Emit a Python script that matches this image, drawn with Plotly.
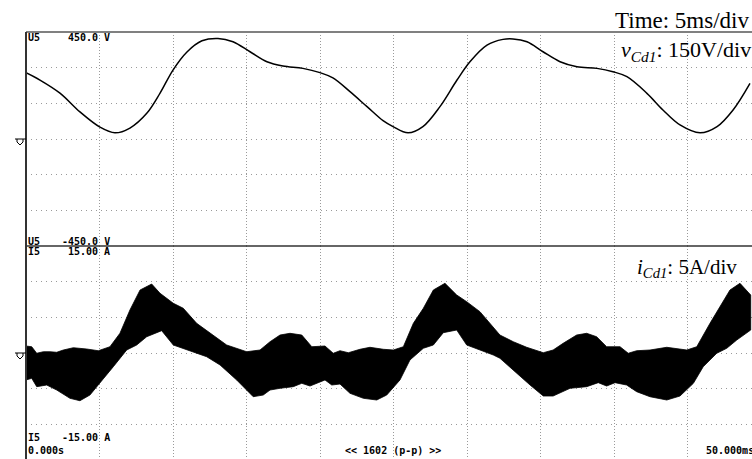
import plotly.graph_objects as go
from plotly.subplots import make_subplots

# ─── Data ─────────────────────────────────────────────────────────────────────
# v_Cd1 : time (ms) / voltage (V)
t_v = [0.0, 0.95, 2.31, 3.67, 5.03, 6.05, 7.07, 8.23, 9.12, 10.0, 10.95, 11.97,
       13.06, 14.08, 15.24, 16.39, 17.48, 18.84, 20.0, 20.88, 22.04, 23.2, 24.29,
       24.97, 25.99, 27.0, 28.16, 29.32, 30.2, 31.36, 32.45, 33.13, 34.08, 35.17,
       36.33, 37.48, 38.84, 39.93, 40.88, 42.24, 43.33, 44.49, 45.85, 47.01, 48.1,
       49.25]
v_cd1 = [279, 248, 193, 114, 50, 26, 46, 109, 193, 290, 366, 413,
         423, 409, 367, 325, 307, 297, 279, 257, 199, 136, 77,
         52, 26, 52, 136, 248, 325, 395, 419, 421, 409, 367,
         325, 304, 297, 283, 262, 192, 122, 59, 26, 52, 122,
         234]

# i_Cd1 ripple band : upper envelope (ms / A)
t_up = [0.0, 0.39, 0.73, 1.18, 1.63, 2.09, 2.54, 3.22, 4.13, 4.92, 5.71, 6.39,
        7.07, 7.76, 8.55, 9.12, 10.02, 10.70, 11.61, 12.52, 13.65, 15.01, 15.92,
        16.60, 17.28, 17.96, 18.76, 19.44, 20.34, 20.90, 21.36, 21.93, 22.72,
        23.40, 24.31, 24.99, 25.67, 26.35, 27.03, 27.71, 28.50, 29.30, 29.98,
        30.88, 31.79, 32.24, 33.15, 34.06, 35.19, 35.86, 36.54, 37.46, 38.14,
        38.82, 39.50, 40.41, 40.97, 41.54, 42.45, 43.59, 44.95, 45.63, 46.53,
        47.21, 47.89, 48.57, 49.30]
i_up = [0.98, 0.88, -0.04, 0.18, 0.18, 0.10, 0.42, 0.74, 0.56, 0.32, 0.88, 2.76,
        6.03, 8.83, 9.67, 8.37, 6.97, 6.27, 4.16, 2.76, 1.12, 0.18, 0.42,
        1.58, 2.52, 2.76, 2.52, 0.88, 0.98, -0.04, 0.32, 0.04, 0.52,
        0.80, 0.52, 0.42, 0.88, 4.16, 6.27, 8.83, 9.77, 8.13, 7.19,
        5.79, 3.69, 2.52, 1.58, 0.80, 0.04, 0.42, 1.36, 2.52, 2.76,
        2.28, 0.88, 0.88, -0.04, 0.32, 0.42, 0.80, 0.42, 0.88, 4.16,
        6.49, 8.83, 9.77, 8.13]

# i_Cd1 ripple band : lower envelope (ms / A)
t_lo = [0.0, 0.39, 0.73, 1.41, 2.09, 2.99, 3.67, 4.35, 5.03, 5.94, 6.85, 7.53,
        8.21, 9.23, 10.02, 11.38, 12.29, 13.20, 14.33, 15.46, 16.14, 16.60,
        17.28, 18.18, 18.76, 19.32, 20.34, 20.80, 21.36, 22.04, 22.95, 23.86,
        24.54, 25.44, 26.12, 27.03, 27.71, 28.39, 29.30, 29.98, 30.88, 31.79,
        32.24, 33.15, 34.29, 35.19, 35.86, 37.01, 38.14, 38.93, 39.50, 40.07,
        40.86, 41.54, 42.45, 43.59, 44.49, 45.40, 46.07, 46.99, 47.67, 48.35,
        49.30]
i_lo = [-3.78, -3.55, -4.72, -4.49, -5.19, -6.35, -6.69, -5.89, -4.25, -1.92, 0.42, 1.12,
        2.28, 3.13, 1.12, 0.18, -0.52, -1.68, -3.78, -6.13, -5.89, -5.19,
        -4.95, -4.72, -4.25, -4.63, -3.78, -4.49, -4.35, -5.65, -6.35, -6.59,
        -5.89, -3.78, -0.98, 0.66, 1.12, 2.85, 3.22, 1.12, 0.42, -0.28,
        -0.74, -2.38, -4.49, -6.03, -6.03, -4.95, -4.72, -4.16, -4.63, -4.16,
        -4.49, -5.42, -6.13, -6.59, -6.03, -4.25, -1.92, -0.04, 0.66, 1.82,
        3.22]

time_ticks = [5, 10, 15, 20, 25, 30, 35, 40, 45]
v_ticks = [-300, -150, 0, 150, 300]
i_ticks = [-10, -5, 0, 5, 10]

# ─── Layout helpers (pixel -> paper) ─────────────────────────────────────────
W, H = 752, 459
L, T = 26, 32
PW, PH = W - L, H - T


def px(x):
    return (x - L) / PW


def py(y):
    return (H - y) / PH


SPLIT = py(246)
GRID = "#9a9a9a"
MONO = dict(family="DejaVu Sans Mono", size=10, color="#000", weight="bold")
SERIF = "Liberation Serif"

fig = make_subplots(rows=2, cols=1, shared_xaxes=True, vertical_spacing=0)

fig.add_trace(go.Scatter(
    x=t_v, y=v_cd1, mode="lines", line=dict(color="#000", width=1.5, shape="spline"),
    showlegend=False, hoverinfo="skip",
), row=1, col=1)

fig.add_trace(go.Scatter(
    x=t_up + t_lo[::-1], y=i_up + i_lo[::-1], mode="lines", fill="toself",
    fillcolor="#000", line=dict(color="#000", width=0.8),
    showlegend=False, hoverinfo="skip",
), row=2, col=1)

fig.update_layout(
    width=W, height=H, margin=dict(l=L, r=0, t=T, b=0),
    paper_bgcolor="#fff", plot_bgcolor="#fff", showlegend=False,
)
fig.update_xaxes(range=[0, 50 * PW / 735], tickvals=time_ticks, showticklabels=False,
                 ticks="", showgrid=True, gridcolor=GRID, griddash="1px,2px", gridwidth=1,
                 zeroline=False, showline=False)
fig.update_yaxes(showticklabels=False, ticks="", showgrid=True, gridcolor=GRID,
                 griddash="1px,4px", gridwidth=1, zeroline=False, showline=False)
fig.update_yaxes(range=[-450, 450], tickvals=v_ticks, domain=[SPLIT, 1], row=1, col=1)
fig.update_yaxes(range=[-14.86, 15], tickvals=i_ticks, domain=[0, SPLIT], row=2, col=1)

# frame lines
fig.add_shape(type="line", xref="paper", yref="paper", x0=0, x1=1, y0=1, y1=1,
              line=dict(color="#808080", width=2))
fig.add_shape(type="line", xref="paper", yref="paper", x0=0, x1=1, y0=SPLIT, y1=SPLIT,
              line=dict(color="#333", width=1.5))
fig.add_shape(type="line", xref="paper", yref="paper", x0=0, x1=0, y0=0, y1=1,
              line=dict(color="#333", width=2))

# ground markers
for gy in (139, 353):
    path = (f"M {px(15)},{py(gy)} L {px(26)},{py(gy)} "
            f"M {px(17)},{py(gy)} L {px(17)},{py(gy + 3)} L {px(20)},{py(gy + 6)} "
            f"L {px(23)},{py(gy + 3)} L {px(23)},{py(gy)}")
    fig.add_shape(type="path", xref="paper", yref="paper", path=path,
                  line=dict(color="#000", width=1))

# scope readouts
mono_labels = [
    ("U5", 27, 37), ("450.0 V", 67, 37),
    ("U5", 27, 241), ("-450.0 V", 61, 241),
    ("I5", 27, 251), ("15.00 A", 67, 251),
    ("I5", 27, 437), ("-15.00 A", 61, 437),
    ("0.000s", 27, 450), ("50.000ms", 705, 450),
]
for txt, x, y in mono_labels:
    fig.add_annotation(text=txt, x=px(x), y=py(y), xref="paper", yref="paper",
                       xanchor="left", yanchor="middle", showarrow=False, font=MONO,
                       borderpad=0)
fig.add_annotation(text="<< 1602 (p-p) >>", x=px(393), y=py(450), xref="paper", yref="paper",
                   xanchor="center", yanchor="middle", showarrow=False, font=MONO,
                   borderpad=0)

# figure captions
captions = [
    ("Time: 5ms/div", 751, 21, 23),
    ("<i>v</i><sub><i>Cd1</i></sub>: 150V/div", 753, 51, 22),
    ("<i>i</i><sub><i>Cd1</i></sub>: 5A/div", 739, 268, 21),
]
for txt, x, y, sz in captions:
    fig.add_annotation(text=txt, x=px(x), y=py(y), xref="paper", yref="paper",
                       xanchor="right", yanchor="middle", showarrow=False,
                       font=dict(family=SERIF, size=sz, color="#000"))

fig.write_html("out.html", config={"displayModeBar": False},
               post_script="document.body.style.margin='0';")
